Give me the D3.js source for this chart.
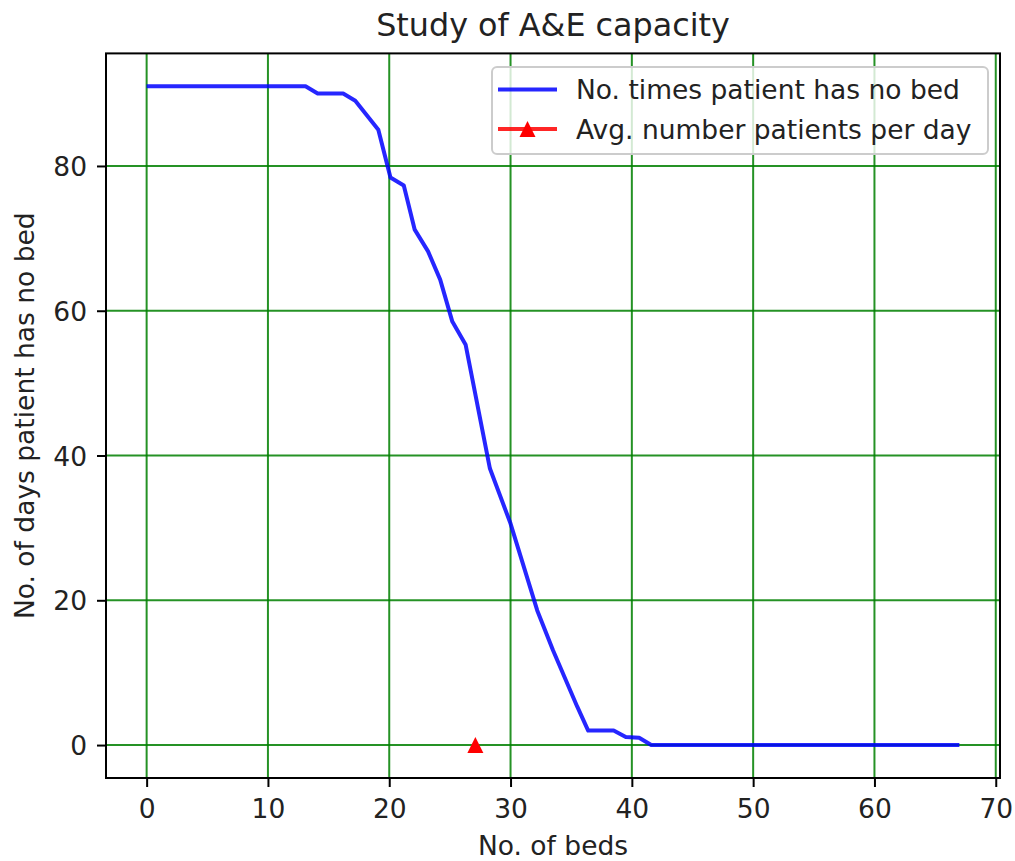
<!DOCTYPE html>
<html>
<head>
<meta charset="utf-8">
<script src="https://cdn.jsdelivr.net/npm/d3@7"></script>
<style>
  html, body { margin: 0; padding: 0; background: #fff; }
  svg { display: block; font-family: "DejaVu Sans", sans-serif; }
</style>
</head>
<body>
<svg id="chart" width="1015" height="861"></svg>
<script>
// ---- data ----
const beds = [0, 13.1, 14.1, 16.2, 17.2, 19.1, 20.1, 21.2, 22.1, 23.2, 24.2, 25.2, 26.3, 28.3, 30.0, 32.2, 33.5, 35.5, 36.4, 38.5, 39.5, 40.6, 41.6, 67];
const daysNoBed = [91, 91, 90, 90, 89, 85, 78.4, 77.3, 71.2, 68.2, 64.3, 58.5, 55.3, 38.2, 30.6, 18.6, 13.1, 5.3, 2, 2, 1.1, 1, 0, 0];
const avgPatients = [27.1];
const avgPatientsY = [0];
const xTicks = [0, 10, 20, 30, 40, 50, 60, 70];
const yTicks = [0, 20, 40, 60, 80];
const seriesNames = ["No. times patient has no bed", "Avg. number patients per day"];
const titleText = "Study of A&E capacity";
const xLabelText = "No. of beds";
const yLabelText = "No. of days patient has no bed";

// ---- layout ----
const svg = d3.select("#chart");
const L = 106, R = 1000, T = 53.4, B = 778;
const x = d3.scaleLinear().domain([-3.35, 70.35]).range([L, R]);
const y = d3.scaleLinear().domain([-4.55, 95.55]).range([B, T]);
const FS = 26.5;

// grid
const grid = svg.append("g");
grid.selectAll("line.gx").data(xTicks).join("line")
  .attr("x1", d => x(d)).attr("x2", d => x(d)).attr("y1", T).attr("y2", B)
  .attr("stroke", "green").attr("stroke-width", 2).attr("opacity", 0.85);
grid.selectAll("line.gy").data(yTicks).join("line")
  .attr("y1", d => y(d)).attr("y2", d => y(d)).attr("x1", L).attr("x2", R)
  .attr("stroke", "green").attr("stroke-width", 2).attr("opacity", 0.85);

// axes
const xAxis = d3.axisBottom(x).tickValues(xTicks).tickSize(9).tickPadding(10).tickFormat(d3.format("d"));
const yAxis = d3.axisLeft(y).tickValues(yTicks).tickSize(9).tickPadding(10).tickFormat(d3.format("d"));
const gx = svg.append("g").attr("transform", `translate(0,${B})`).call(xAxis);
const gy = svg.append("g").attr("transform", `translate(${L},0)`).call(yAxis);
[gx, gy].forEach(g => {
  g.select(".domain").remove();
  g.selectAll(".tick line").attr("stroke", "#000").attr("stroke-width", 2);
  g.selectAll(".tick text").attr("fill", "#222").attr("font-size", FS)
    .attr("font-family", "DejaVu Sans");
});
gx.selectAll(".tick text").attr("dy", null).attr("y", 40);
gy.selectAll(".tick text").attr("dy", "0.36em");

// line
svg.append("path")
  .datum(beds.map((b, i) => [b, daysNoBed[i]]))
  .attr("fill", "none").attr("stroke", "blue").attr("stroke-width", 4)
  .attr("stroke-opacity", 0.85).attr("stroke-linejoin", "round")
  .attr("d", d3.line().x(d => x(d[0])).y(d => y(d[1])));

// triangle marker
const tri = (cx, cy, s) => `M${cx},${cy - s}L${cx + s},${cy + s}L${cx - s},${cy + s}Z`;
svg.selectAll("path.mk").data(avgPatients).join("path")
  .attr("d", (d, i) => tri(x(d), y(avgPatientsY[i]), 8))
  .attr("fill", "red");

// spines
svg.append("rect").attr("x", L).attr("y", T).attr("width", R - L).attr("height", B - T)
  .attr("fill", "none").attr("stroke", "#000").attr("stroke-width", 2);

// legend
const lg = svg.append("g");
lg.append("rect").attr("x", 492).attr("y", 67).attr("width", 496).attr("height", 87)
  .attr("rx", 5).attr("fill", "#fff").attr("fill-opacity", 0.8)
  .attr("stroke", "#ccc").attr("stroke-width", 2);
const rows = [89.5, 129];
lg.append("line").attr("x1", 498).attr("x2", 557).attr("y1", rows[0]).attr("y2", rows[0])
  .attr("stroke", "blue").attr("stroke-width", 4).attr("stroke-opacity", 0.85);
lg.append("line").attr("x1", 498).attr("x2", 557).attr("y1", rows[1]).attr("y2", rows[1])
  .attr("stroke", "red").attr("stroke-width", 4).attr("stroke-opacity", 0.85);
lg.append("path").attr("d", tri(527.5, rows[1], 8)).attr("fill", "red");
lg.selectAll("text").data(seriesNames).join("text")
  .attr("x", 576).attr("y", (d, i) => rows[i]).attr("dy", "0.36em")
  .attr("font-size", FS).attr("fill", "#222").text(d => d);

// titles
svg.append("text").attr("x", (L + R) / 2).attr("y", 36).attr("text-anchor", "middle")
  .attr("font-size", 31.8).attr("fill", "#222").text(titleText);
svg.append("text").attr("x", (L + R) / 2).attr("y", 855).attr("text-anchor", "middle")
  .attr("font-size", FS).attr("fill", "#222").text(xLabelText);
svg.append("text").attr("transform", `translate(34,${(T + B) / 2}) rotate(-90)`)
  .attr("text-anchor", "middle").attr("font-size", FS).attr("fill", "#222").text(yLabelText);
</script>
</body>
</html>
